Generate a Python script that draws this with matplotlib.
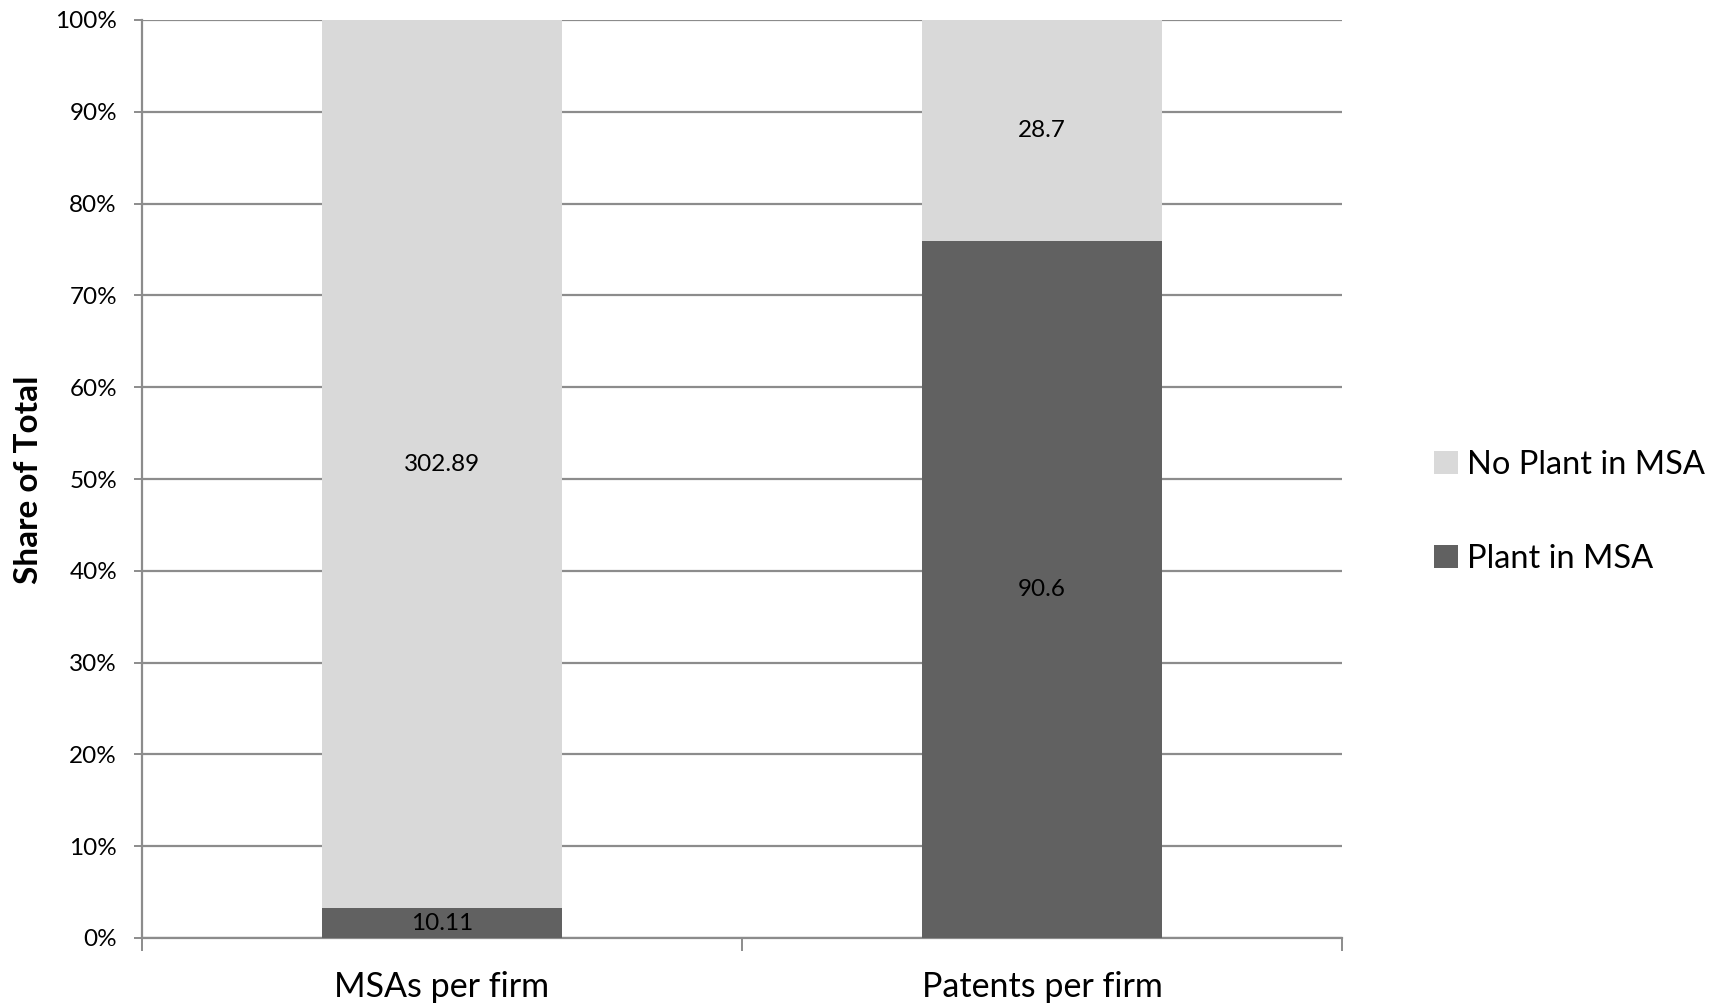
import matplotlib
matplotlib.use("Agg")
import matplotlib.pyplot as plt
import numpy as np

categories = ["MSAs per firm", "Patents per firm"]
plant_in_msa = [10.11, 90.6]
no_plant_in_msa = [302.89, 28.7]
series_names = ["Plant in MSA", "No Plant in MSA"]
y_ticks = [0, 10, 20, 30, 40, 50, 60, 70, 80, 90, 100]

plt.rcParams['font.family'] = ['Lato', 'DejaVu Sans']

light = "#D9D9D9"
dark = "#616161"
grid_c = "#8C8C8C"

fig = plt.figure(figsize=(17.22, 10.08), dpi=100)
ax = fig.add_axes([142/1722, 1-938/1008, 1200/1722, 918/1008])

p = np.array(plant_in_msa)
n = np.array(no_plant_in_msa)
tot = p + n
p_share = p / tot * 100
n_share = n / tot * 100
x = np.arange(len(categories))
w = 0.4

b1 = ax.bar(x, p_share, w, color=dark, label=series_names[0], zorder=3)
b2 = ax.bar(x, n_share, w, bottom=p_share, color=light, label=series_names[1], zorder=3)

for i in range(len(x)):
    ax.text(x[i], p_share[i] / 2, f"{plant_in_msa[i]:g}", ha="center", va="center",
            fontsize=17.5, color="black", zorder=4)
    ax.text(x[i], p_share[i] + n_share[i] / 2, f"{no_plant_in_msa[i]:g}", ha="center",
            va="center", fontsize=17.5, color="black", zorder=4)

ax.set_xlim(-0.5, len(categories) - 0.5)
ax.set_ylim(0, 100)
ax.set_yticks(y_ticks)
ax.set_yticklabels([f"{t}%" for t in y_ticks])
ax.yaxis.grid(True, color=grid_c, linewidth=1.6, zorder=0)
ax.set_axisbelow(True)

ax.set_xticks(x)
ax.set_xticklabels(categories, fontsize=24.5)
ax.set_xticks(np.arange(-0.5, len(categories), 1.0), minor=True)
ax.tick_params(axis="x", which="major", length=0, pad=24)
ax.tick_params(axis="x", which="minor", length=9, width=1.4, color=grid_c, direction="out")
ax.tick_params(axis="y", length=6, width=1.4, color=grid_c, pad=12, labelsize=17.5)

for s in ["top", "right"]:
    ax.spines[s].set_visible(False)
for s in ["left", "bottom"]:
    ax.spines[s].set_color(grid_c)
    ax.spines[s].set_linewidth(1.6)

ax.set_ylabel("Share of Total", fontsize=24, fontweight="bold")
ax.yaxis.set_label_coords(28/1722, 0.5, transform=fig.transFigure)
ax.yaxis.label.set_verticalalignment("center")
ax.yaxis.label.set_y(1-480/1008)

leg = ax.legend(handles=[b2, b1], labels=[series_names[1], series_names[0]],
                loc="center left", bbox_to_anchor=(1421/1722, 1-512/1008),
                bbox_transform=fig.transFigure, frameon=False, fontsize=23.5,
                handlelength=0.72, handleheight=0.72, handletextpad=0.3,
                labelspacing=1.95, borderaxespad=0)

fig.savefig("out.png", dpi=100)
